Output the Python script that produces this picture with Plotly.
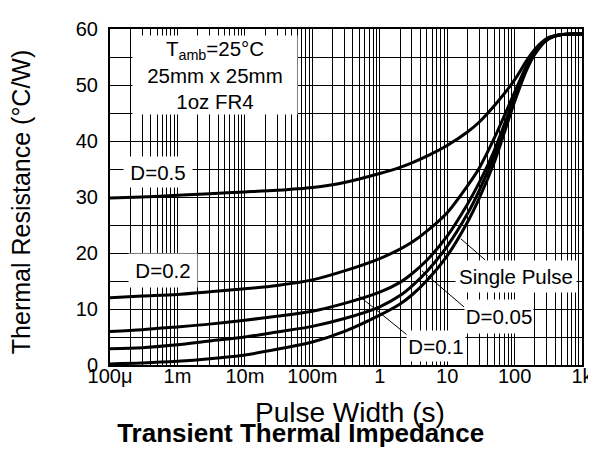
import plotly.graph_objects as go

# Pulse width (s)
pulse_width = [1e-4, 3e-4, 1e-3, 3e-3, 1e-2, 3e-2, 0.1, 0.3, 1, 2, 3, 5,
               10, 20, 30, 50, 100, 150, 200, 300, 500, 1000]

# Thermal resistance (°C/W) per duty cycle
d_05 = [29.8, 30.0, 30.3, 30.6, 30.9, 31.2, 31.7, 32.6, 34.2, 35.3, 36.1, 37.3,
        39.2, 41.6, 43.4, 46.3, 50.9, 54.3, 56.4, 58.3, 59.0, 59.1]
d_02 = [12.0, 12.3, 12.6, 13.1, 13.6, 14.2, 15.2, 16.8, 19.0, 20.7, 21.9, 23.9,
        27.2, 32.0, 35.2, 40.5, 48.7, 53.4, 55.9, 58.2, 59.0, 59.1]
d_01 = [6.0, 6.3, 6.8, 7.3, 8.0, 8.7, 9.6, 11.0, 13.0, 14.75, 16.3, 18.7,
        23.0, 28.7, 32.6, 38.3, 47.8, 53.1, 55.8, 58.1, 59.0, 59.1]
d_005 = [2.9, 3.1, 3.6, 4.3, 5.0, 5.9, 6.9, 8.3, 10.4, 12.4, 14.1, 16.7,
         21.2, 27.0, 31.2, 37.4, 47.4, 52.9, 55.7, 58.1, 59.0, 59.1]
single_pulse = [0.2, 0.35, 0.65, 1.1, 1.8, 2.8, 4.1, 6.0, 8.9, 10.9, 12.5, 15.1,
                19.5, 25.5, 29.8, 36.2, 47.0, 52.6, 55.5, 58.0, 59.0, 59.1]

series = [("D=0.5", d_05), ("D=0.2", d_02), ("D=0.1", d_01),
          ("D=0.05", d_005), ("Single Pulse", single_pulse)]

x_tick_vals = [1e-4, 1e-3, 1e-2, 1e-1, 1, 10, 100, 1000]
x_tick_text = ["100μ", "1m", "10m", "100m", "1", "10", "100", "1k"]
y_tick_vals = [0, 10, 20, 30, 40, 50, 60]

FONT = "Arial, Liberation Sans, sans-serif"

fig = go.Figure()
for name, vals in series:
    fig.add_trace(go.Scatter(x=pulse_width, y=vals, mode="lines", name=name,
                             line=dict(color="black", width=3, shape="spline", smoothing=0.8),
                             showlegend=False))

# plot-area geometry (pixels) used for placing labels
L, R, T, B = 102, 586, 17, 357
W_ = R - L
H_ = B - T


def px(xp):
    return (xp - L) / W_


def py(yp):
    return (B - yp) / H_


boxes = [
    ("T<sub>amb</sub>=25°C<br>25mm x 25mm<br>1oz FR4", 210, 64, 164, 78),
    ("D=0.5", 151, 162, 68, 30),
    ("D=0.2", 156, 261.5, 68, 33),
    ("Single Pulse", 518, 267.5, 120, 31),
    ("D=0.05", 501, 307.5, 68, 33),
    ("D=0.1", 436, 338, 58, 30),
]
annotations = []
for text, cx, cy, w, h in boxes:
    annotations.append(dict(text=text, xref="paper", yref="paper", x=px(cx), y=py(cy),
                            xanchor="center", yanchor="middle", showarrow=False,
                            width=w, height=h, bgcolor="white", borderpad=0,
                            font=dict(family=FONT, size=20.5, color="black")))

annotations.append(dict(text="Pulse Width (s)", xref="paper", yref="paper",
                        x=px(348), y=py(405.5), xanchor="center", yanchor="middle",
                        showarrow=False, font=dict(family=FONT, size=28, color="black")))
annotations.append(dict(text="Thermal Resistance (°C/W)", xref="paper", yref="paper",
                        x=px(11), y=py(192), xanchor="center", yanchor="middle",
                        textangle=-90, showarrow=False,
                        font=dict(family=FONT, size=25, color="black")))

# leader lines (data coordinates)
leaders = [
    (15.96, 22.53, 36.7, 18.76),
    (4.22, 16.82, 17.8, 10.36),
    (0.4846, 12.41, 2.56, 5.35),
]
shapes = []
for x0, y0, x1, y1 in leaders:
    shapes.append(dict(type="line", xref="x", yref="y", x0=x0, y0=y0, x1=x1, y1=y1,
                       line=dict(color="black", width=1)))

fig.update_layout(
    width=596, height=460,
    margin=dict(l=L, r=596 - R, t=T, b=460 - B),
    paper_bgcolor="white", plot_bgcolor="white",
    font=dict(family=FONT, color="black"),
    title=dict(text="<b>Transient Thermal Impedance</b>", x=0.491, xref="container",
               y=1 - 425 / 460, yref="container", xanchor="center", yanchor="middle",
               font=dict(family=FONT, size=26, color="black")),
    annotations=annotations,
    shapes=shapes,
)
fig.update_xaxes(type="log", range=[-4, 3], tickmode="array", tickvals=x_tick_vals,
                 ticktext=x_tick_text, tickfont=dict(size=20, family=FONT),
                 ticklabelstandoff=-8,
                 showgrid=True, gridcolor="black", gridwidth=1,
                 minor=dict(dtick="D1", showgrid=True, gridcolor="black", gridwidth=1),
                 showline=True, linecolor="black", linewidth=2, mirror=True,
                 ticks="", zeroline=False)
fig.update_yaxes(range=[0, 60], tickmode="array", tickvals=y_tick_vals,
                 tickfont=dict(size=20, family=FONT),
                 ticklabelstandoff=6,
                 showgrid=True, gridcolor="black", gridwidth=1,
                 minor=dict(dtick=5, showgrid=True, gridcolor="black", gridwidth=1),
                 showline=True, linecolor="black", linewidth=2, mirror=True,
                 ticks="", zeroline=False)

fig.write_html("out.html")
